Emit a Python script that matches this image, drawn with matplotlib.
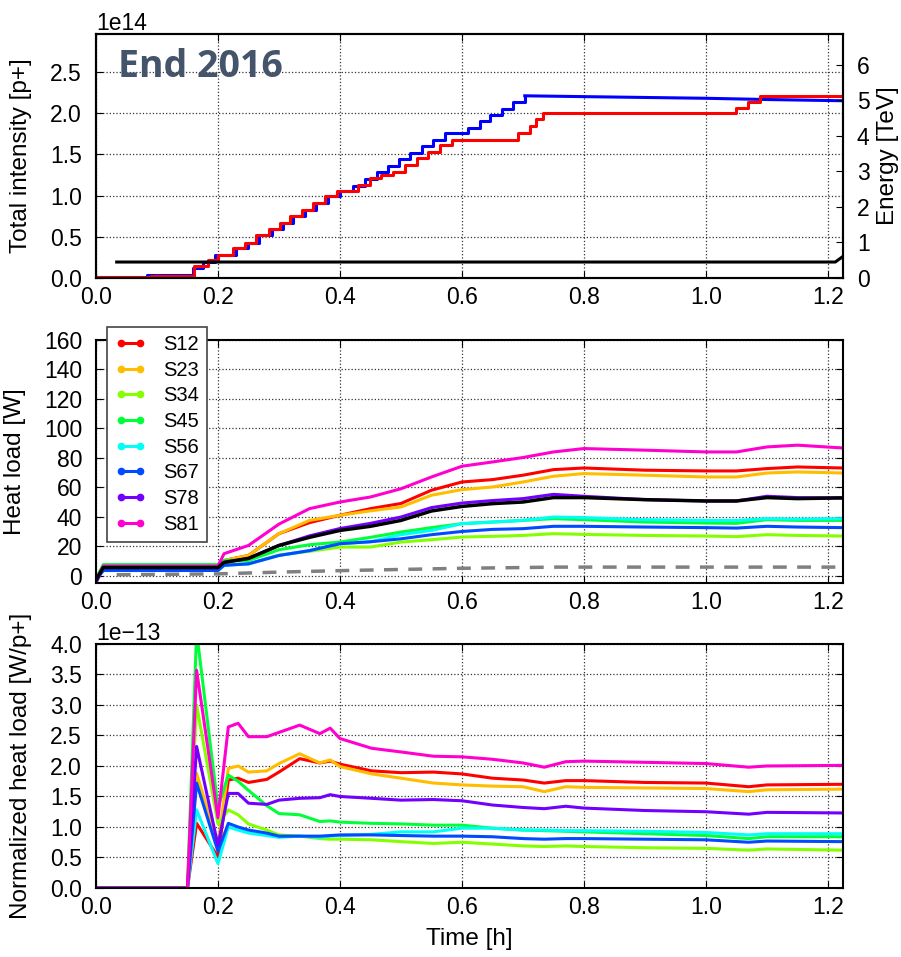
import numpy as np
import matplotlib
matplotlib.use("Agg")
import matplotlib.pyplot as plt
from matplotlib.lines import Line2D

# --- beam intensity (step curves), units of 1e14 p+ ---
t_b1 = [0.0, 0.083, 0.159, 0.176, 0.195, 0.230, 0.249, 0.268, 0.288, 0.307, 0.323,
        0.342, 0.361, 0.380, 0.400, 0.422, 0.441, 0.460, 0.479, 0.496, 0.515, 0.534,
        0.553, 0.572, 0.610, 0.630, 0.646, 0.665, 0.684, 0.703]
int_b1 = [0.01, 0.04, 0.12, 0.19, 0.28, 0.36, 0.43, 0.52, 0.60, 0.67, 0.75,
          0.825, 0.906, 0.99, 1.05, 1.12, 1.20, 1.28, 1.36, 1.44, 1.52, 1.60,
          1.675, 1.756, 1.82, 1.90, 1.98, 2.05, 2.13, 2.21]
# slow decay of beam 1 at flat bottom
t_b1_decay = [0.703, 0.80, 0.90, 1.00, 1.10, 1.224]
int_b1_decay = [2.21, 2.20, 2.19, 2.18, 2.165, 2.15]
t_b2 = [0.0, 0.09, 0.160, 0.184, 0.200, 0.225, 0.244, 0.263, 0.283, 0.302, 0.318,
        0.337, 0.356, 0.375, 0.395, 0.430, 0.449, 0.468, 0.487, 0.507, 0.526, 0.545,
        0.564, 0.583, 0.692, 0.711, 0.722, 0.733, 1.050, 1.069, 1.089, 1.224]
int_b2 = [0.01, 0.03, 0.14, 0.22, 0.28, 0.36, 0.43, 0.52, 0.60, 0.67, 0.75,
          0.825, 0.906, 0.99, 1.06, 1.13, 1.21, 1.25, 1.29, 1.37, 1.45, 1.53,
          1.61, 1.68, 1.756, 1.84, 1.93, 2.00, 2.06, 2.13, 2.21, 2.21]

# beam energy [TeV]
t_en = [0.034, 1.212, 1.224]
energy = [0.45, 0.45, 0.6]

# --- heat loads per sector [W] ---
sectors = ["S12", "S23", "S34", "S45", "S56", "S67", "S78", "S81"]
t_hl = [0.0, 0.012, 0.2, 0.21, 0.25, 0.3, 0.35, 0.4, 0.45, 0.5, 0.55, 0.6, 0.65,
        0.7, 0.75, 0.8, 0.9, 1.0, 1.05, 1.1, 1.15, 1.224]
hl_S12 = [-2, 6, 6, 10.3, 13.7, 28.5, 36, 41, 45.5, 49, 58, 63.6, 65.2, 68.2, 72,
          73.1, 71.6, 71.1, 71.1, 72.7, 73.8, 73.1]
hl_S23 = [-2, 5.5, 5.5, 10.3, 13.7, 28.5, 37.5, 41, 44, 46.6, 54.6, 58.4, 60.2,
          63.6, 67.5, 69.3, 68.2, 67, 67, 69.7, 70.4, 69.7]
hl_S34 = [-2, 5, 5, 8, 8, 14, 16.5, 19.4, 19.4, 22.8, 24.4, 26.2, 26.7, 27.3,
          28.5, 28, 27.3, 26.9, 26.5, 27.8, 27.3, 26.9]
hl_S45 = [-2, 7.5, 7.5, 10.3, 10.3, 17.6, 21, 22.8, 26, 29.6, 32.6, 35.3, 36.4,
          37.5, 38.7, 38, 36.4, 35.7, 35.5, 38, 37.5, 37.5]
hl_S56 = [-3, 3.5, 3.5, 7, 8, 13.7, 17, 21.7, 23, 27.8, 30.7, 35.3, 36.4, 37.5,
          39.8, 39.4, 38, 37.5, 37.5, 38.7, 38.4, 38.7]
hl_S67 = [-3, 3.5, 3.5, 7, 8, 13.7, 17, 21.7, 23, 25, 27.8, 30, 31.4, 31.9, 33.5,
          33.5, 33, 32.6, 32.3, 33.5, 33, 32.6]
hl_S78 = [-5, 5.5, 5.5, 9, 11.7, 20.5, 27, 32, 35.5, 39.8, 46.2, 49.3, 51, 52.3,
          55.2, 53.9, 51.6, 50.7, 50.7, 53.9, 53, 52.8]
hl_S81 = [-3, 6.5, 6.5, 14.9, 20.5, 35, 45.5, 50, 53.4, 59, 67, 74.3, 77.2, 80.2,
          84, 86.3, 85.2, 84, 84, 87.4, 88.6, 86.7]
hl_avg = [-3, 5.5, 5.5, 9, 11.7, 20.5, 26, 30.7, 33.5, 37.5, 43.9, 47, 48.9, 50,
          53, 53, 51.6, 50.7, 50.7, 53, 52.3, 52.8]
t_model = [0.034, 0.2, 0.3, 0.4, 0.5, 0.6, 0.7, 0.75, 1.224]
hl_model = [0.6, 1.2, 2.4, 3.4, 4.2, 5.0, 5.5, 5.8, 5.8]

# --- normalized heat loads, units of 1e-13 W/p+ ---
t_norm = [0, 0.15, 0.165, 0.2, 0.217, 0.233, 0.25, 0.28, 0.3, 0.334, 0.367, 0.384,
          0.4, 0.452, 0.5, 0.553, 0.6, 0.65, 0.7, 0.735, 0.77, 0.8, 0.9, 1.0,
          1.07, 1.1, 1.224]
nhl_S12 = [0, 0, 1.06, 0.51, 1.77, 1.8, 1.73, 1.78, 1.9, 2.12, 2.05, 2.08, 2.03,
           1.92, 1.89, 1.9, 1.87, 1.8, 1.77, 1.72, 1.76, 1.76, 1.73, 1.72, 1.66,
           1.69, 1.70]
nhl_S23 = [0, 0, 1.88, 0.72, 1.96, 2.0, 1.9, 1.92, 2.04, 2.2, 2.05, 2.1, 1.99,
           1.87, 1.8, 1.72, 1.69, 1.67, 1.66, 1.58, 1.66, 1.65, 1.64, 1.63, 1.58,
           1.61, 1.62]
nhl_S34 = [0, 0, 3.0, 1.05, 1.28, 1.2, 1.05, 0.95, 0.87, 0.85, 0.81, 0.8, 0.8,
           0.79, 0.76, 0.73, 0.75, 0.72, 0.69, 0.68, 0.69, 0.68, 0.66, 0.65, 0.62,
           0.64, 0.62]
nhl_S45 = [0, 0, 4.2, 1.32, 1.85, 1.75, 1.6, 1.35, 1.22, 1.2, 1.09, 1.1, 1.08,
           1.06, 1.05, 1.03, 1.03, 0.98, 0.95, 0.94, 0.93, 0.92, 0.89, 0.86, 0.81,
           0.84, 0.84]
nhl_S56 = [0, 0, 1.28, 0.4, 1.0, 0.95, 0.9, 0.86, 0.83, 0.85, 0.83, 0.85, 0.86,
           0.88, 0.92, 0.92, 0.98, 0.98, 0.95, 0.95, 0.94, 0.94, 0.93, 0.91, 0.87,
           0.89, 0.89]
nhl_S67 = [0, 0, 1.72, 0.6, 1.06, 1.0, 0.95, 0.9, 0.85, 0.85, 0.85, 0.86, 0.87,
           0.87, 0.86, 0.85, 0.85, 0.84, 0.81, 0.8, 0.81, 0.81, 0.8, 0.79, 0.75,
           0.77, 0.76]
nhl_S78 = [0, 0, 2.32, 0.7, 1.55, 1.55, 1.39, 1.37, 1.44, 1.47, 1.48, 1.53, 1.5,
           1.47, 1.44, 1.45, 1.43, 1.36, 1.32, 1.30, 1.34, 1.31, 1.27, 1.25, 1.21,
           1.24, 1.23]
nhl_S81 = [0, 0, 3.57, 1.15, 2.64, 2.7, 2.48, 2.48, 2.55, 2.67, 2.53, 2.62, 2.45,
           2.29, 2.23, 2.16, 2.15, 2.11, 2.05, 1.98, 2.07, 2.08, 2.06, 2.04, 1.98,
           2.0, 2.01]

hl_all = [hl_S12, hl_S23, hl_S34, hl_S45, hl_S56, hl_S67, hl_S78, hl_S81]
nhl_all = [nhl_S12, nhl_S23, nhl_S34, nhl_S45, nhl_S56, nhl_S67, nhl_S78, nhl_S81]

plt.rcParams['font.family'] = ['Liberation Sans', 'DejaVu Sans']
plt.rcParams['axes.unicode_minus'] = True
plt.rcParams['xtick.direction'] = 'in'
plt.rcParams['ytick.direction'] = 'in'
plt.rcParams['xtick.top'] = True
plt.rcParams['ytick.right'] = True
plt.rcParams['xtick.major.size'] = 5
plt.rcParams['ytick.major.size'] = 5
plt.rcParams['xtick.labelsize'] = 16.5
plt.rcParams['ytick.labelsize'] = 16.5
plt.rcParams['axes.labelsize'] = 17.5
plt.rcParams['axes.linewidth'] = 1.5
plt.rcParams['grid.color'] = 'k'
plt.rcParams['grid.linestyle'] = ':'
plt.rcParams['grid.linewidth'] = 0.9
plt.rcParams['grid.alpha'] = 0.8

colors = plt.cm.hsv(np.arange(8) / 8.)
xmax = 1.2246

fig = plt.figure(figsize=(9.01, 9.57), dpi=100)
ax1 = fig.add_axes([0.1065, 0.7095, 0.8291, 0.255])
ax2 = fig.add_axes([0.1065, 0.3908, 0.8291, 0.2539])
ax3 = fig.add_axes([0.1065, 0.0721, 0.8291, 0.255])

# intensity + energy
ax1.step(t_b1, np.array(int_b1) * 1e14, where='post', color='b', lw=2.2)
ax1.plot(t_b1_decay, np.array(int_b1_decay) * 1e14, color='b', lw=2.2)
ax1.step(t_b2, np.array(int_b2) * 1e14, where='post', color='r', lw=2.2)
ax1.set_ylim(0, 2.96e14)
ax1.set_yticks(np.arange(0, 2.6e14, 0.5e14))
ax1.set_ylabel('Total intensity [p+]')
ax1.tick_params(right=False)
ax1e = ax1.twinx()
ax1e.plot(t_en, energy, 'k', lw=2.2)
ax1e.set_ylim(0, 6.87)
ax1e.set_yticks(range(7))
ax1e.set_ylabel('Energy [TeV]')
ax1e.yaxis.set_label_coords(1.0455, 0.5)
ax1e.tick_params(axis='y', pad=10)
ax1.text(0.0295, 0.824, 'End 2016', transform=ax1.transAxes, fontsize=27,
         fontweight='bold', family='Open Sans', color='#44546A', va='baseline')

# heat loads
for name, vals, c in zip(sectors, hl_all, colors):
    ax2.plot(t_hl, vals, color=c, lw=2.2, label=name)
ax2.plot(t_hl, hl_avg, 'k', lw=2.5)
ax2.plot(t_model, hl_model, '--', color='grey', lw=2.5, dashes=(4, 3))
ax2.set_ylim(-5, 160)
ax2.set_yticks(range(0, 161, 20))
ax2.set_ylabel('Heat load [W]')
handles = [Line2D([0], [0], color=c, lw=2.2, marker='o', markersize=4.5)
           for c in colors]
leg = ax2.legend(handles, sectors, loc='upper left', bbox_to_anchor=(0.0147, 1.053),
                 borderaxespad=0, fontsize=14.5, numpoints=2, fancybox=False,
                 framealpha=1, edgecolor='#444444', handlelength=1.55,
                 labelspacing=0.33, handletextpad=0.85, borderpad=0.4)
leg.get_frame().set_linewidth(1.2)
leg.set_zorder(10)

# normalized heat loads
for name, vals, c in zip(sectors, nhl_all, colors):
    ax3.plot(t_norm, np.array(vals) * 1e-13, color=c, lw=2.2)
ax3.set_ylim(0, 4e-13)
ax3.set_yticks(np.arange(0, 4.01e-13, 0.5e-13))
ax3.set_ylabel('Normalized heat load [W/p+]')
ax3.set_xlabel('Time [h]')
ax3.xaxis.set_label_coords(0.5, -0.165)

for ax in (ax1, ax2, ax3):
    ax.set_xlim(0, xmax)
    ax.set_xticks(np.arange(0, 1.21, 0.2))
    ax.grid(True)
    ax.tick_params(axis='y', pad=10)
    ax.tick_params(axis='x', pad=6)
    ax.yaxis.set_label_coords(-0.086, 0.5)
ax2.yaxis.set_label_coords(-0.093, 0.5)

fig.savefig('out.png', dpi=100)
